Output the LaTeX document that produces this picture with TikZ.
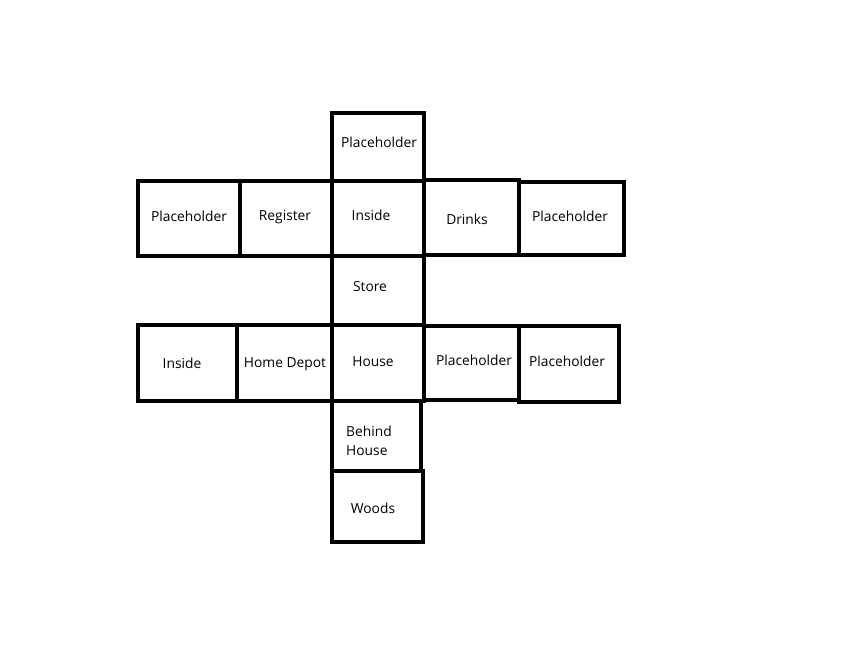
\documentclass[tikz,border=0pt]{standalone}
\usepackage{fontspec}
\setmainfont{Open Sans}
\begin{document}
\begin{tikzpicture}[x=1pt,y=-1pt,
  cell/.style={draw=black,line width=4.6pt,inner sep=0pt,outer sep=0pt,fill=none},
  lbl/.style={inner sep=0pt,font=\fontsize{13.8}{19}\selectfont,text=black}]
\useasboundingbox (0,0) rectangle (846,656);
% boxes: center, width, height
\node[cell,minimum width=92pt,minimum height=68pt] (b1) at (378,147) {};
\node[cell,minimum width=102pt,minimum height=75pt] (b2) at (189,218.5) {};
\node[cell,minimum width=92pt,minimum height=75pt] (b3) at (286,218.5) {};
\node[cell,minimum width=92pt,minimum height=75pt] (b4) at (378,218.5) {};
\node[cell,minimum width=95pt,minimum height=75pt] (b5) at (471.5,217.5) {};
\node[cell,minimum width=105pt,minimum height=73pt] (b6) at (571.5,218.5) {};
\node[cell,minimum width=92pt,minimum height=69pt] (b7) at (378,290.5) {};
\node[cell,minimum width=99pt,minimum height=76pt] (b8) at (187.5,363) {};
\node[cell,minimum width=95pt,minimum height=76pt] (b9) at (284.5,363) {};
\node[cell,minimum width=92pt,minimum height=76pt] (b10) at (378,363) {};
\node[cell,minimum width=95pt,minimum height=74pt] (b11) at (471.5,363) {};
\node[cell,minimum width=100pt,minimum height=76pt] (b12) at (569,364) {};
\node[cell,minimum width=89pt,minimum height=70pt] (b13) at (376.5,436) {};
\node[cell,minimum width=91pt,minimum height=71pt] (b14) at (377.5,506.5) {};
% labels
\node[lbl] (t1) at (379,142) {Placeholder};
\node[lbl] (t2) at (189,216) {Placeholder};
\node[lbl] (t3) at (285,217) {Register};
\node[lbl] (t4) at (371,215) {Inside};
\node[lbl] (t5) at (467,219) {Drinks};
\node[lbl] (t6) at (570,216) {Placeholder};
\node[lbl] (t7) at (370,287) {Store};
\node[lbl] (t8) at (182,363) {Inside};
\node[lbl] (t9) at (285,364) {Home Depot};
\node[lbl] (t10) at (373,362) {House};
\node[lbl] (t11) at (474,360) {Placeholder};
\node[lbl] (t12) at (567,361) {Placeholder};
\node[lbl,align=left,anchor=west] (t13) at (346,440.5) {Behind\\House};
\node[lbl] (t14) at (373,508) {Woods};
\end{tikzpicture}
\end{document}
